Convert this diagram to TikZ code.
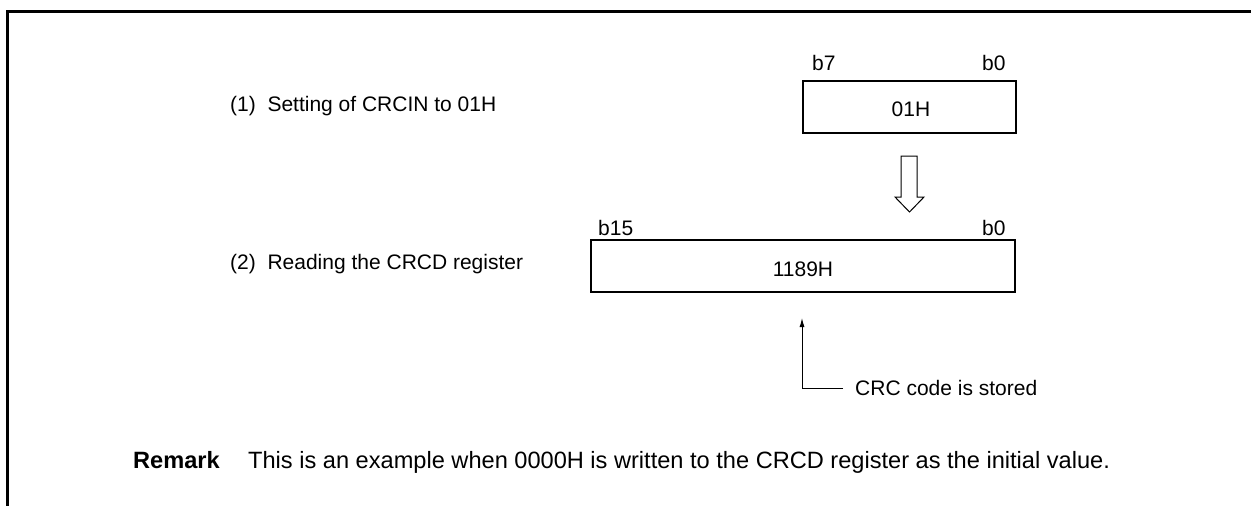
\documentclass[tikz,border=0pt]{standalone}
\usepackage{fontspec}
\setmainfont{Liberation Sans}
\usetikzlibrary{arrows.meta}
\begin{document}
\begin{tikzpicture}[x=1pt,y=-1pt,
  txt/.style={inner sep=0pt,anchor=base west,font=\fontsize{21}{25}\selectfont},
  ctxt/.style={inner sep=0pt,anchor=base,font=\fontsize{21}{25}\selectfont},
  rtxt/.style={inner sep=0pt,anchor=base west,font=\fontsize{23.6}{28}\selectfont},
  reg/.style={draw,line width=1.5pt},
  frame/.style={line width=2.8pt}]
\useasboundingbox (0,0) rectangle (1251,506);
\coordinate (fl) at (7.3,520);
\coordinate (fc) at (7.3,11.3);
\coordinate (fr) at (1260,11.3);
\draw[frame] (fl) -- (fc) -- (fr);
% labels
\node[txt] (l1) at (230,111) {(1)\ \ Setting of CRCIN to 01H};
\node[txt] (l2) at (230,269) {(2)\ \ Reading the CRCD register};
% register 1
\node[reg,minimum width=213pt,minimum height=52pt,inner sep=0pt] (r1) at (909.5,107) {};
\node[ctxt] (v1) at (911,116.7) {01H};
\node[txt] (b7) at (812,70) {b7};
\node[txt] (b0a) at (982,70) {b0};
% hollow arrow
\draw[line width=1pt,fill=white] (901,156) -- (917,156) -- (917,197) -- (924,197) -- (909.5,212) -- (895,197) -- (901,197) -- cycle;
% register 2
\node[reg,minimum width=424pt,minimum height=52pt,inner sep=0pt] (r2) at (803,266) {};
\node[ctxt] (v2) at (803,276.7) {1189H};
\node[txt] (b15) at (598,235) {b15};
\node[txt] (b0b) at (982,235) {b0};
% CRC code arrow
\node[txt] (crc) at (855,395) {CRC code is stored};
\coordinate (tip) at (802,318);
\coordinate (corner) at (802,388);
\coordinate (hend) at (843,388);
\draw[line width=1pt,-{Latex[length=9pt,width=5pt]}] (hend) -- (corner) -- (tip);
% remark
\node[rtxt,font=\fontsize{23.6}{28}\selectfont\bfseries] (rm) at (133,468) {Remark};
\node[rtxt] (rt) at (248,468) {This is an example when 0000H is written to the CRCD register as the initial value.};
\end{tikzpicture}
\end{document}
